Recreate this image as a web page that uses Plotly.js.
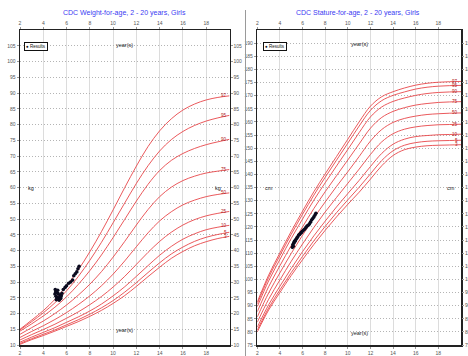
<!DOCTYPE html>
<html>
<head>
<meta charset="utf-8">
<script src="https://cdn.plot.ly/plotly-3.0.1.min.js"></script>
<style>html,body{margin:0;padding:0;background:#fff}#chart{width:468px;height:356px}</style>
</head>
<body>
<div id="chart"></div>
<script>
// ---- data ----
const ages = [2,3,4,5,6,7,8,9,10,11,12,13,14,15,16,17,18,19,20];
const percentileNames = ['3','5','10','25','50','75','90','95','97'];

// Weight-for-age, girls (kg)
const wP3  = [10.2,11.7,13.0,14.4,15.9,17.4,19.1,21.0,23.2,25.7,28.6,31.7,34.7,37.5,39.7,41.5,42.8,43.8,44.5];
const wP5  = [10.5,12.0,13.4,14.8,16.4,18.0,19.8,21.8,24.1,26.8,29.8,33.0,36.1,38.9,41.1,42.9,44.2,45.1,45.8];
const wP10 = [10.9,12.5,14.0,15.5,17.2,18.9,20.8,23.0,25.6,28.5,31.8,35.2,38.5,41.3,43.6,45.3,46.6,47.4,48.0];
const wP25 = [11.6,13.3,14.9,16.6,18.5,20.5,22.8,25.4,28.4,31.8,35.6,39.4,42.9,45.8,48.1,49.8,51.0,51.8,52.4];
const wP50 = [12.4,14.3,16.1,18.1,20.3,22.8,25.6,28.8,32.5,36.7,41.2,45.6,49.4,52.3,54.5,56.0,57.1,57.8,58.3];
const wP75 = [13.4,15.5,17.6,20.0,22.7,25.8,29.3,33.3,37.9,42.9,48.1,53.0,57.1,60.1,62.2,63.6,64.6,65.2,65.7];
const wP90 = [14.4,16.7,19.2,22.0,25.3,29.2,33.6,38.6,44.1,49.9,55.7,61.0,65.4,68.6,70.8,72.4,73.6,74.5,75.3];
const wP95 = [14.8,17.4,20.2,23.4,27.2,31.7,36.9,42.6,48.8,55.1,61.3,66.9,71.6,75.2,77.8,79.7,81.1,82.1,82.9];
const wP97 = [15.0,17.9,20.9,24.5,28.8,33.8,39.6,46.0,52.9,60.0,66.8,73.0,78.0,81.8,84.6,86.5,87.8,88.6,89.1];

// Stature-for-age, girls (cm)
const sP3  = [80.0,88.3,95.0,101.5,107.5,113.3,118.7,123.8,128.6,133.2,138.2,143.3,147.2,149.4,150.4,150.9,151.1,151.2,151.3];
const sP5  = [80.7,89.1,96.0,102.6,108.8,114.7,120.2,125.4,130.3,135.1,140.2,145.3,149.0,151.1,152.1,152.6,152.8,152.9,153.0];
const sP10 = [81.8,90.3,97.4,104.2,110.6,116.6,122.2,127.6,132.7,137.7,143.0,148.0,151.5,153.4,154.4,154.8,155.1,155.2,155.3];
const sP25 = [83.7,92.4,99.8,106.9,113.5,119.8,125.7,131.2,136.6,142.0,147.6,152.4,155.5,157.2,158.1,158.6,158.9,159.0,159.1];
const sP50 = [85.7,94.8,102.5,109.9,116.8,123.4,129.5,135.4,141.0,146.8,152.7,157.1,159.8,161.3,162.2,162.8,163.1,163.3,163.4];
const sP75 = [87.7,97.2,105.2,112.9,120.0,127.0,133.4,139.5,145.5,151.6,157.6,161.7,164.0,165.4,166.4,167.0,167.4,167.6,167.7];
const sP90 = [89.6,99.4,107.6,115.6,123.0,130.2,136.8,143.2,149.5,155.9,161.9,165.7,167.8,169.1,170.1,170.8,171.2,171.4,171.5];
const sP95 = [90.7,100.7,109.1,117.2,124.8,132.1,138.9,145.4,151.9,158.4,164.4,168.1,170.1,171.4,172.5,173.2,173.6,173.8,173.9];
const sP97 = [91.4,101.6,110.1,118.3,126.0,133.4,140.2,146.8,153.4,160.0,166.0,169.6,171.5,172.9,174.0,174.7,175.1,175.3,175.4];

// Patient results
const resWeightAge = [5.00,5.03,5.06,5.09,5.12,5.16,5.20,5.24,5.28,5.32,5.36,5.40,5.45,5.50,5.55,5.60,5.72,5.88,6.00,6.18,6.35,6.52,6.62,6.75,6.88,6.98,7.08];
const resWeight    = [26.2,27.6,26.8,25.5,24.4,25.2,26.6,27.4,26.3,25.0,24.2,25.0,25.8,24.8,25.6,26.4,27.6,28.3,28.8,29.6,30.0,30.6,32.0,32.6,33.2,34.2,35.0];
const resStatAge   = [5.10,5.14,5.18,5.22,5.26,5.30,5.36,5.42,5.50,5.58,5.66,5.74,5.82,5.90,6.00,6.10,6.20,6.30,6.40,6.50,6.60,6.70,6.80,6.90,7.00,7.10,7.18];
const resStature   = [112.2,113.2,112.6,113.8,114.2,114.6,114.6,115.3,115.8,116.2,116.9,117.1,117.6,117.9,118.4,118.8,119.2,119.8,120.3,120.6,121.1,121.8,122.6,123.2,123.8,124.5,125.2];

const wCurves = [wP3,wP5,wP10,wP25,wP50,wP75,wP90,wP95,wP97];
const sCurves = [sP3,sP5,sP10,sP25,sP50,sP75,sP90,sP95,sP97];

const xTicks = [2,4,6,8,10,12,14,16,18];
const wTicks = [10,15,20,25,30,35,40,45,50,55,60,65,70,75,80,85,90,95,100,105];
const sTicks = [75,80,85,90,95,100,105,110,115,120,125,130,135,140,145,150,155,160,165,170,175,180,185,190];

// ---- build ----
const curveColor = '#e8464a';
const traces = [];
wCurves.forEach((c,i)=>traces.push({x:ages,y:c,type:'scatter',mode:'lines',line:{color:curveColor,width:0.9,shape:'spline'},xaxis:'x',yaxis:'y',showlegend:false,hoverinfo:'skip'}));
sCurves.forEach((c,i)=>traces.push({x:ages,y:c,type:'scatter',mode:'lines',line:{color:curveColor,width:0.9,shape:'spline'},xaxis:'x2',yaxis:'y2',showlegend:false,hoverinfo:'skip'}));
traces.push({x:resWeightAge,y:resWeight,type:'scatter',mode:'markers',marker:{color:'#0a0a1e',size:3.6},xaxis:'x',yaxis:'y',showlegend:false,name:'Results'});
traces.push({x:resStatAge,y:resStature,type:'scatter',mode:'markers',marker:{color:'#0a0a1e',size:3.6},xaxis:'x2',yaxis:'y2',showlegend:false,name:'Results'});
// mirror axes (labels on the other sides)
traces.push({x:[],y:[],type:'scatter',xaxis:'x3',yaxis:'y3',showlegend:false,hoverinfo:'skip'});
traces.push({x:[],y:[],type:'scatter',xaxis:'x4',yaxis:'y4',showlegend:false,hoverinfo:'skip'});

const W = 468, H = 356;
const dLeft = [20/W, 229.5/W];
const dRight = [257.3/W, 461/W];
const dY = [(H-345)/H, (H-30)/H];
const tickFont = {family:'Liberation Sans, Arial, sans-serif', size:5, color:'#555'};

function xa(domain, anchor, extra){
  return Object.assign({domain:domain, anchor:anchor, range:[2,20], tickmode:'array', tickvals:xTicks,
    showgrid:true, gridcolor:'#dcdcdc', gridwidth:1, zeroline:false, ticks:'outside', ticklen:2, tickcolor:'#999',
    tickfont:tickFont, showline:true, linecolor:'#222', linewidth:1.5, mirror:true, fixedrange:true}, extra||{});
}
function ya(domain, anchor, range, ticks, extra){
  return Object.assign({domain:domain, anchor:anchor, range:range, tickmode:'array', tickvals:ticks,
    showgrid:true, gridcolor:'#b4b4b4', gridwidth:1, griddash:'1px,2px', zeroline:false, ticks:'outside', ticklen:2, tickcolor:'#999',
    tickfont:tickFont, showline:true, linecolor:'#222', linewidth:1.5, mirror:true, fixedrange:true}, extra||{});
}
function mirrorAx(over, anchor, side, range, ticks){
  return {overlaying:over, anchor:anchor, side:side, range:range, tickmode:'array', tickvals:ticks, showgrid:false, zeroline:false,
    showline:false, ticks:'outside', ticklen:2, tickcolor:'#999', tickfont:tickFont, fixedrange:true};
}

const layout = {
  width:W, height:H, margin:{l:0,r:0,t:0,b:0}, paper_bgcolor:'#fff', plot_bgcolor:'#fff',
  showlegend:false,
  font:{family:'Liberation Sans, Arial, sans-serif'},
  xaxis: xa(dLeft,'y'),
  yaxis: ya(dY,'x',[10,110],wTicks),
  xaxis2: xa(dRight,'y2'),
  yaxis2: ya(dY,'x2',[75,195],sTicks),
  xaxis3: mirrorAx('x','y3','top',[2,20],xTicks),
  yaxis3: mirrorAx('y','x3','right',[10,110],wTicks),
  xaxis4: mirrorAx('x2','y4','top',[2,20],xTicks),
  yaxis4: mirrorAx('y2','x4','right',[75,195],sTicks),
  shapes:[
    {type:'line', xref:'paper', yref:'paper', x0:245.5/W, x1:245.5/W, y0:0, y1:(H-10)/H, line:{color:'#9a9a9a', width:1}}
  ],
  annotations:[]
};

const ann = layout.annotations;
const titleFont = {family:'Liberation Sans, Arial, sans-serif', size:7, color:'#3b3bf2'};
ann.push({xref:'paper', yref:'paper', x:124/W, y:(H-13)/H, text:'CDC Weight-for-age, 2 - 20 years, Girls', showarrow:false, font:titleFont, xanchor:'center', yanchor:'middle'});
ann.push({xref:'paper', yref:'paper', x:358/W, y:(H-13)/H, text:'CDC Stature-for-age, 2 - 20 years, Girls', showarrow:false, font:titleFont, xanchor:'center', yanchor:'middle'});

const lblFont = {family:'Liberation Sans, Arial, sans-serif', size:5.5, color:'#222'};
ann.push({xref:'x', yref:'y', x:11, y:105.2, text:'year(s)', showarrow:false, font:lblFont});
ann.push({xref:'x', yref:'y', x:11, y:14.8, text:'year(s)', showarrow:false, font:lblFont});
ann.push({xref:'x', yref:'y', x:2.95, y:60, text:'kg', showarrow:false, font:lblFont});
ann.push({xref:'x', yref:'y', x:19.0, y:60, text:'kg', showarrow:false, font:lblFont});
ann.push({xref:'x2', yref:'y2', x:11, y:189.6, text:'year(s)', showarrow:false, font:lblFont});
ann.push({xref:'x2', yref:'y2', x:11, y:79.6, text:'year(s)', showarrow:false, font:lblFont});
ann.push({xref:'x2', yref:'y2', x:3.0, y:135, text:'cm', showarrow:false, font:lblFont});
ann.push({xref:'x2', yref:'y2', x:19.1, y:135, text:'cm', showarrow:false, font:lblFont});

const legFont = {family:'Liberation Sans, Arial, sans-serif', size:4.5, color:'#111'};
ann.push({xref:'paper', yref:'paper', x:23.5/W, y:(H-41.5)/H, xanchor:'left', yanchor:'top', text:'\u25CF Results', showarrow:false, font:legFont, bordercolor:'#111', borderwidth:1, borderpad:1, bgcolor:'#fff'});
ann.push({xref:'paper', yref:'paper', x:262.5/W, y:(H-41.5)/H, xanchor:'left', yanchor:'top', text:'\u25CF Results', showarrow:false, font:legFont, bordercolor:'#111', borderwidth:1, borderpad:1, bgcolor:'#fff'});

const pFont = {family:'Liberation Sans, Arial, sans-serif', size:4.5, color:'#b02020'};
wCurves.forEach((c,i)=>ann.push({xref:'x', yref:'y', x:20, y:c[c.length-1], xanchor:'right', yanchor:'middle', xshift:-1, text:percentileNames[i], showarrow:false, font:pFont}));
sCurves.forEach((c,i)=>ann.push({xref:'x2', yref:'y2', x:20, y:c[c.length-1], xanchor:'right', yanchor:'middle', xshift:-1, text:percentileNames[i], showarrow:false, font:pFont}));

Plotly.newPlot('chart', traces, layout, {displayModeBar:false, staticPlot:true});
</script>
</body>
</html>
